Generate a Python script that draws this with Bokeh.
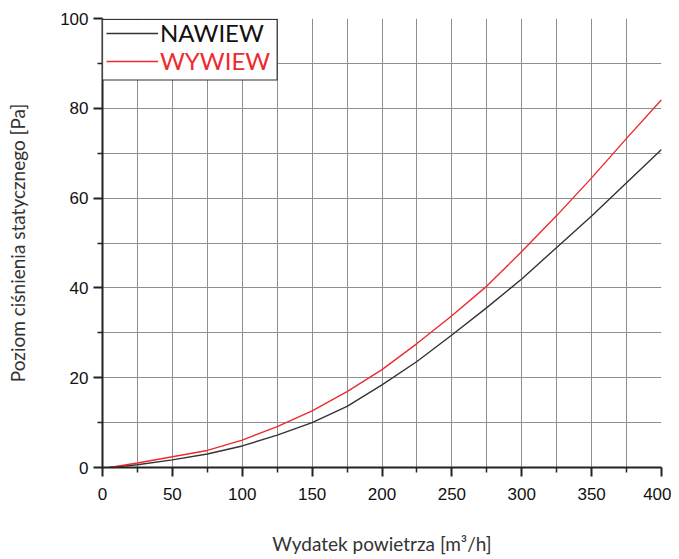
from bokeh.plotting import figure
from bokeh.models import (Range1d, FixedTicker, Legend, LegendItem, BoxAnnotation)
from bokeh.embed import file_html
from bokeh.resources import INLINE

# --- data ---
flow = [5, 25, 50, 75, 100, 125, 150, 175, 200, 225, 250, 275, 300, 325, 350, 375, 400]
nawiew = [0.0, 0.6, 1.7, 3.0, 4.8, 7.2, 10.0, 13.6, 18.4, 23.6, 29.5, 35.6, 42.0, 49.0, 56.0, 63.4, 70.8]
wywiew = [0.0, 1.0, 2.4, 3.8, 6.1, 9.1, 12.6, 16.9, 21.8, 27.6, 33.8, 40.4, 48.1, 56.1, 64.5, 73.3, 81.9]

x_ticks = [0, 50, 100, 150, 200, 250, 300, 350, 400]
x_minor = [25, 75, 125, 175, 225, 275, 325, 375]
y_ticks = [0, 20, 40, 60, 80, 100]
y_minor = [10, 30, 50, 70, 90]

x_label = "Wydatek powietrza [m\u00b3/h]"
y_label = "Poziom ciśnienia statycznego [Pa]"
names = ["NAWIEW", "WYWIEW"]
colors = ["#333333", "#ee2a2f"]

p = figure(width=671, height=559, output_backend="svg", toolbar_location=None,
           x_range=Range1d(0, 400), y_range=Range1d(0, 100),
           min_border_left=102, min_border_right=10, min_border_top=18,
           min_border_bottom=92)
p.outline_line_color = None
p.background_fill_color = "white"
p.border_fill_color = "white"

r1 = p.line(flow, nawiew, line_color=colors[0], line_width=1.4)
r2 = p.line(flow, wywiew, line_color=colors[1], line_width=1.4)

# axes
for ax, maj, mnr in ((p.xaxis[0], x_ticks, x_minor), (p.yaxis[0], y_ticks, y_minor)):
    ax.ticker = FixedTicker(ticks=maj, minor_ticks=mnr)
    ax.axis_line_color = "#222222"
    ax.axis_line_width = 2
    ax.major_tick_line_color = "#222222"
    ax.major_tick_line_width = 2
    ax.minor_tick_line_color = "#222222"
    ax.minor_tick_line_width = 1.5
    ax.major_tick_out = 9
    ax.major_tick_in = 0
    ax.minor_tick_out = 5
    ax.minor_tick_in = 0
    ax.major_label_text_font = "Liberation Sans"
    ax.major_label_text_font_size = "17px"
    ax.major_label_text_color = "#111111"
    ax.axis_label_text_font = "Lato"
    ax.axis_label_text_font_style = "normal"
    ax.axis_label_text_font_size = "19px"
    ax.axis_label_text_color = "#333333"

p.xaxis.axis_label = x_label
p.yaxis.axis_label = y_label
p.xaxis.major_label_standoff = 11
p.yaxis.major_label_standoff = 5
p.xaxis.axis_label_standoff = 29
p.yaxis.axis_label_standoff = 28

# grid
p.xgrid.ticker = FixedTicker(ticks=x_ticks + x_minor)
p.ygrid.ticker = FixedTicker(ticks=y_ticks + y_minor)
for g in (p.xgrid[0], p.ygrid[0]):
    g.grid_line_color = "#8f8f8f"
    g.grid_line_width = 1
    g.grid_line_alpha = 1

# legend box (white, dark border) drawn first, then two single-item legends
box = BoxAnnotation(left=0, right=125, bottom=86.3, top=99.8,
                    fill_color="white", fill_alpha=1,
                    line_color="#333333", line_alpha=1, line_width=1.2)
p.add_layout(box)

common = dict(label_text_font="Lato", label_text_font_size="24px",
              glyph_width=52, glyph_height=20, label_height=28,
              label_standoff=2, padding=2, spacing=0, margin=0,
              border_line_alpha=0, background_fill_alpha=0)
leg1 = Legend(items=[LegendItem(label=names[0], renderers=[r1])],
              location=(2, 418), label_text_color="#111111", **common)
leg2 = Legend(items=[LegendItem(label=names[1], renderers=[r2])],
              location=(2, 390), label_text_color=colors[1], **common)
p.add_layout(leg1)
p.add_layout(leg2)

open("out.html", "w").write(file_html(p, INLINE))
